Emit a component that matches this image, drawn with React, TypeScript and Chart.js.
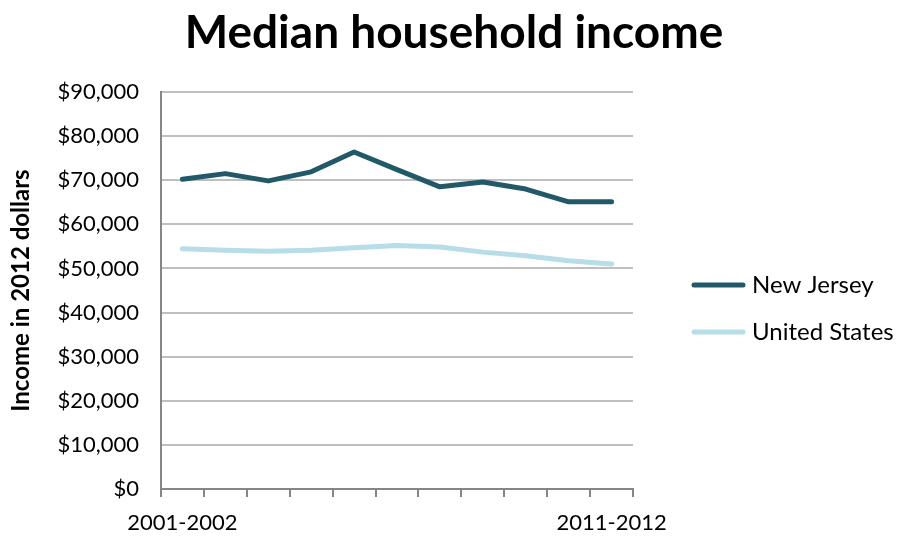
import React, { useEffect, useRef } from 'react';
import { Chart, registerables } from 'chart.js';

Chart.register(...registerables);

const categories = [
  '2001-2002', '2002-2003', '2003-2004', '2004-2005', '2005-2006', '2006-2007',
  '2007-2008', '2008-2009', '2009-2010', '2010-2011', '2011-2012',
];
const newJersey = [70200, 71500, 69850, 71900, 76400, 72400, 68500, 69600, 68000, 65100, 65100];
const unitedStates = [54450, 54100, 53900, 54100, 54700, 55200, 54850, 53700, 52900, 51750, 51000];
const yMin = 0;
const yMax = 90000;
const yStep = 10000;

const FONT = 'Lato, "Open Sans", sans-serif';

const sideLegend = {
  id: 'sideLegend',
  afterDraw(chart: any) {
    const ctx = chart.ctx;
    const x0 = chart.chartArea.right + 59;
    chart.data.datasets.forEach((ds: any, i: number) => {
      const y = 285 + i * 47;
      ctx.save();
      ctx.strokeStyle = ds.borderColor;
      ctx.lineWidth = 5;
      ctx.lineCap = 'round';
      ctx.beginPath();
      ctx.moveTo(x0 + 2, y);
      ctx.lineTo(x0 + 51, y);
      ctx.stroke();
      ctx.fillStyle = '#000';
      ctx.font = `24px ${FONT}`;
      ctx.textBaseline = 'middle';
      ctx.textAlign = 'left';
      ctx.fillText(ds.label, x0 + 60, y);
      ctx.restore();
    });
  },
};

export default function App() {
  const ref = useRef<HTMLCanvasElement | null>(null);
  useEffect(() => {
    if (!ref.current) return;
    const chart = new Chart(ref.current, {
      type: 'line',
      data: {
        labels: categories,
        datasets: [
          {
            label: 'New Jersey',
            data: newJersey,
            borderColor: '#215968',
            backgroundColor: '#215968',
            borderWidth: 5,
            pointRadius: 0,
            tension: 0,
            borderCapStyle: 'round',
            borderJoinStyle: 'round',
          },
          {
            label: 'United States',
            data: unitedStates,
            borderColor: '#b7dde8',
            backgroundColor: '#b7dde8',
            borderWidth: 5,
            pointRadius: 0,
            tension: 0,
            borderCapStyle: 'round',
            borderJoinStyle: 'round',
          },
        ],
      },
      options: {
        responsive: false,
        animation: false,
        devicePixelRatio: 1,
        layout: { padding: 0 },
        plugins: {
          legend: { display: false },
          tooltip: { enabled: false },
          title: {
            display: true,
            text: 'Median household income',
            color: '#000',
            font: { family: FONT, size: 46, weight: 'bold', lineHeight: 1.2 },
            padding: { top: 6, bottom: 30.8 },
          },
        },
        scales: {
          x: {
            offset: true,
            grid: {
              offset: true,
              drawOnChartArea: false,
              drawTicks: true,
              tickLength: 8,
              color: '#868686',
              lineWidth: 2,
            },
            border: { color: '#868686', width: 2 },
            ticks: {
              autoSkip: false,
              maxRotation: 0,
              padding: 13,
              color: '#000',
              font: { family: FONT, size: 22 },
              callback: (_v: any, i: number) =>
                i === 0 || i === categories.length - 1 ? categories[i] : '',
            },
            afterFit: (s: any) => {
              s.height = 47;
            },
          },
          y: {
            min: yMin,
            max: yMax,
            grid: { color: '#bfbfbf', lineWidth: 2, drawTicks: false },
            border: { color: '#868686', width: 2 },
            ticks: {
              stepSize: yStep,
              padding: 22,
              color: '#000',
              font: { family: FONT, size: 22 },
              callback: (v: any) => '$' + Number(v).toLocaleString('en-US'),
            },
            title: {
              display: true,
              text: 'Income in 2012 dollars',
              color: '#000',
              font: { family: FONT, size: 24, weight: 'bold', lineHeight: 1.2 },
              padding: { top: 7, bottom: 0 },
            },
            afterFit: (s: any) => {
              s.width = 161;
            },
          },
          legendSpace: {
            position: 'right',
            display: true,
            grid: { display: false },
            border: { display: false },
            ticks: { display: false },
            afterFit: (s: any) => {
              s.width = 275;
            },
          },
        },
      },
      plugins: [sideLegend],
    });
    return () => chart.destroy();
  }, []);
  return (
    <div style={{ position: 'fixed', left: 0, top: 0, width: 908, height: 536, background: '#fff' }}>
      <canvas ref={ref} width={908} height={536} />
    </div>
  );
}
